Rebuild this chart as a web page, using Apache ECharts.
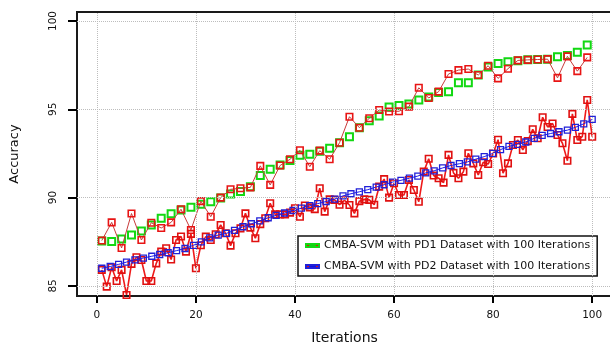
<!DOCTYPE html>
<html>
<head>
<meta charset="utf-8">
<script src="https://cdn.jsdelivr.net/npm/echarts@6/dist/echarts.min.js"></script>
<style>html,body{margin:0;padding:0;background:#fff;}#chart{width:610px;height:345px;}</style>
</head>
<body>
<div id="chart"></div>
<script>
const xTicks = [0, 20, 40, 60, 80, 100];
const yTicks = [85, 90, 95, 100];

const pd1Iter = [1,3,5,7,9,11,13,15,17,19,21,23,25,27,29,31,33,35,37,39,41,43,45,47,49,51,53,55,57,59,61,63,65,67,69,71,73,75,77,79,81,83,85,87,89,91,93,95,97,99];
const pd1Trend = [87.55,87.51,87.66,87.89,88.11,88.45,88.83,89.08,89.30,89.45,89.62,89.77,89.98,90.20,90.34,90.62,91.25,91.60,91.85,92.10,92.40,92.46,92.62,92.79,93.10,93.45,93.95,94.35,94.62,95.13,95.22,95.30,95.53,95.70,95.95,96.00,96.50,96.50,96.95,97.40,97.60,97.69,97.75,97.80,97.82,97.84,97.97,98.05,98.23,98.64];
const pd1Raw = [87.57,88.60,87.15,89.10,87.60,88.58,88.28,88.60,89.34,88.17,89.80,88.92,90.00,90.47,90.53,90.58,91.80,90.72,91.82,92.17,92.68,91.75,92.66,92.17,93.11,94.58,93.96,94.49,94.96,94.88,94.89,95.15,96.22,95.64,96.00,97.00,97.22,97.28,96.94,97.47,96.75,97.30,97.77,97.80,97.82,97.84,96.78,98.00,97.16,97.94];

const pd2FitIter = [1,2.7,4.4,6,7.7,9.4,11.1,12.7,14.4,16.1,17.8,19.5,21.1,22.8,24.5,26.2,27.8,29.5,31.2,32.9,34.6,36.2,37.9,39.6,41.3,43,44.6,46.3,48,49.7,51.3,53,54.7,56.4,58,59.7,61.4,63.1,64.8,66.4,68.1,69.8,71.5,73.2,74.8,76.5,78.2,79.9,81.5,83.2,84.9,86.6,88.3,89.9,91.6,93.3,95,96.6,98.3,100];
const pd2Fit = [86.00,86.10,86.22,86.35,86.48,86.58,86.68,86.78,86.88,87.00,87.12,87.30,87.50,87.72,87.88,87.98,88.15,88.35,88.52,88.68,88.86,89.00,89.13,89.27,89.40,89.55,89.66,89.78,89.92,90.10,90.22,90.33,90.45,90.60,90.73,90.88,90.98,91.10,91.22,91.40,91.52,91.68,91.82,91.92,92.02,92.18,92.32,92.50,92.72,92.90,93.02,93.15,93.36,93.52,93.63,93.73,93.82,93.98,94.18,94.43];

const pd2Iter = [1,2,3,4,5,6,7,8,9,10,11,12,13,14,15,16,17,18,19,20,21,22,23,24,25,26,27,28,29,30,31,32,33,34,35,36,37,38,39,40,41,42,43,44,45,46,47,48,49,50,51,52,53,54,55,56,57,58,59,60,61,62,63,64,65,66,67,68,69,70,71,72,73,74,75,76,77,78,79,80,81,82,83,84,85,86,87,88,89,90,91,92,93,94,95,96,97,98,99,100];
const pd2Raw = [85.91,84.96,86.06,85.28,85.91,84.49,86.25,86.62,86.47,85.28,85.28,86.28,86.94,87.13,86.50,87.60,87.80,86.94,87.95,86.00,87.30,87.79,87.60,87.93,88.45,87.98,87.28,87.98,88.26,89.11,88.30,87.70,88.50,88.83,89.68,89.05,89.05,89.05,89.15,89.40,88.92,89.55,89.45,89.35,90.53,89.21,89.90,89.87,89.60,89.85,89.58,89.11,89.80,89.90,89.87,89.60,90.62,91.05,90.00,90.81,90.15,90.15,91.00,90.43,89.77,91.47,92.20,91.25,91.10,90.85,92.42,91.40,91.10,91.47,92.51,91.94,91.28,92.00,91.90,92.50,93.28,91.38,91.94,92.98,93.26,92.70,93.20,93.87,93.36,94.55,94.00,94.20,93.55,93.08,92.09,94.74,93.26,93.45,95.53,93.45];

const nameA = 'CMBA-SVM with PD1 Dataset with 100 Iterations';
const nameB = 'CMBA-SVM with PD2 Dataset with 100 Iterations';

const X_MIN = -4, X_MAX = 104, Y_MIN = 84.43, Y_MAX = 100.51;

const zip = (xs, ys) => xs.map((x, i) => [x, ys[i]]);
const FONT = 'DejaVu Sans';
const chart = echarts.init(document.getElementById('chart'), null, {renderer: 'canvas'});

function legendGrad(mid) {
  return new echarts.graphic.LinearGradient(0, 0, 1, 0, [
    {offset: 0, color: '#e01010'}, {offset: 0.28, color: '#e01010'},
    {offset: 0.28, color: mid}, {offset: 0.72, color: mid},
    {offset: 0.72, color: '#e01010'}, {offset: 1, color: '#e01010'}
  ]);
}

// outward tick segments expressed in data units just beyond the axis range
const tickLines = xTicks.map(v => [{coord: [v, Y_MIN]}, {coord: [v, Y_MIN - 0.4]}])
  .concat(yTicks.map(v => [{coord: [X_MIN, v]}, {coord: [X_MIN - 1.8, v]}]));

chart.setOption({
  animation: false,
  backgroundColor: '#fff',
  grid: {left: 77, top: 12, width: 535, height: 284, show: true, borderColor: '#1a1a1a', borderWidth: 2,
         backgroundColor: 'transparent', outerBoundsMode: 'none', containLabel: false},
  xAxis: {
    type: 'value', min: X_MIN, max: X_MAX,
    axisLine: {show: true, onZero: false, lineStyle: {color: '#1a1a1a', width: 2}},
    splitLine: {show: false},
    axisTick: {show: true, customValues: xTicks, length: 7, lineStyle: {color: '#000', width: 2}},
    axisLabel: {customValues: xTicks, margin: 14, fontSize: 10.5, color: '#111', fontFamily: FONT},
    name: 'Iterations', nameLocation: 'middle', nameGap: 35, nameMoveOverlap: false,
    nameTextStyle: {fontSize: 14, color: '#111', fontFamily: FONT}
  },
  yAxis: {
    type: 'value', min: Y_MIN, max: Y_MAX,
    axisLine: {show: true, onZero: false, lineStyle: {color: '#1a1a1a', width: 2}},
    splitLine: {show: false},
    axisTick: {show: true, customValues: yTicks, length: 9, lineStyle: {color: '#000', width: 2}},
    axisLabel: {customValues: yTicks, rotate: 90, margin: 18, fontSize: 10.5, color: '#111', fontFamily: FONT},
    name: 'Accuracy', nameLocation: 'middle', nameRotate: 90, nameGap: 56, nameMoveOverlap: false,
    nameTextStyle: {fontSize: 13, color: '#111', fontFamily: FONT}
  },
  legend: {
    orient: 'vertical', left: 298, top: 236,
    backgroundColor: '#fff', borderColor: '#111', borderWidth: 1.5, borderRadius: 0,
    padding: [4, 7, 4, 7], itemGap: 10, itemWidth: 13, itemHeight: 3,
    textStyle: {fontSize: 11, color: '#111', fontFamily: FONT},
    data: [
      {name: nameA, icon: 'rect', itemStyle: {color: legendGrad('#10d010')}},
      {name: nameB, icon: 'rect', itemStyle: {color: legendGrad('#1010e0')}}
    ]
  },
  series: [
    {
      name: 'gridlines', type: 'line', data: [], z: 1, silent: true,
      markLine: {
        silent: true, symbol: 'none', label: {show: false},
        lineStyle: {type: 'dotted', color: '#bdbdbd', width: 1},
        data: xTicks.map(v => ({xAxis: v})).concat(yTicks.map(v => ({yAxis: v})))
      }
    },
    {
      name: 'tickmarks', type: 'line', data: [], z: 6, silent: true, clip: false,
      markLine: {
        silent: true, symbol: 'none', label: {show: false},
        lineStyle: {type: 'solid', color: '#000', width: 2},
        data: tickLines
      }
    },
    {
      name: nameA, type: 'line', data: zip(pd1Iter, pd1Trend), z: 2,
      symbol: 'rect', symbolSize: 7,
      lineStyle: {width: 0, color: '#10d010'},
      itemStyle: {color: 'rgba(255,255,255,0)', borderColor: '#12d812', borderWidth: 2}
    },
    {
      name: 'pd1raw', type: 'line', data: zip(pd1Iter, pd1Raw), z: 3,
      symbol: 'rect', symbolSize: 6.5,
      lineStyle: {width: 1, color: '#c83a3a'},
      itemStyle: {color: 'rgba(255,255,255,0)', borderColor: '#e81414', borderWidth: 1.6}
    },
    {
      name: 'pd2raw', type: 'line', data: zip(pd2Iter, pd2Raw), z: 3,
      symbol: 'rect', symbolSize: 6.5,
      lineStyle: {width: 1.6, color: '#ee1a1a'},
      itemStyle: {color: 'rgba(255,255,255,0)', borderColor: '#e01010', borderWidth: 1.6}
    },
    {
      name: nameB, type: 'line', data: zip(pd2FitIter, pd2Fit), z: 4,
      symbol: 'rect', symbolSize: 6,
      lineStyle: {width: 1, color: '#1a1aee'},
      itemStyle: {color: 'rgba(255,255,255,0)', borderColor: '#2020d8', borderWidth: 1.3}
    }
  ]
});
</script>
</body>
</html>
